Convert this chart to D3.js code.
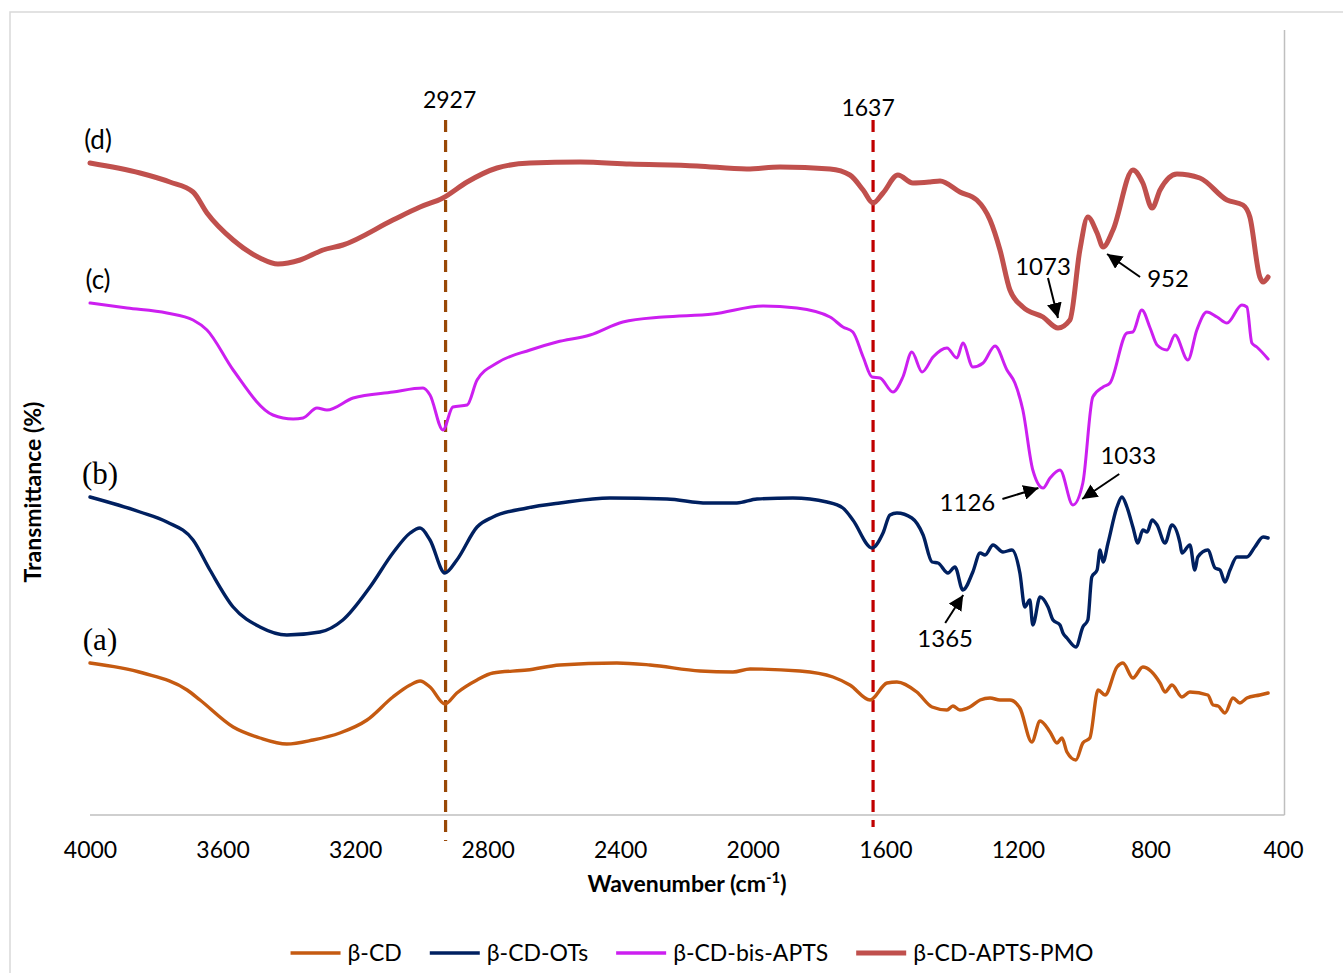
<!DOCTYPE html>
<html>
<head>
<meta charset="utf-8">
<script src="https://cdn.jsdelivr.net/npm/d3@7"></script>
<style>
  body { margin: 0; background: #fff; }
  text { font-family: Lato, "Open Sans", sans-serif; fill: #000; }
</style>
</head>
<body>
<div id="chart"></div>
<script>
// FTIR spectra (transmittance is stacked / arbitrary offset)
var waveA = [4000,3840,3707,3668,3568,3487,3406,3327,3246,3164,3086,3034,3004,2974,2929,2893,2832,2784,2681,2582,2410,2310,2159,2060,2008,1858,1758,1707,1646,1595,1565,1505,1459,1414,1396,1375,1345,1314,1284,1254,1224,1194,1158,1133,1103,1082,1067,1052,1025,1004,983,958,937,901,883,853,823,771,756,735,705,681,627,611,596,575,551,530,509,470,445];
var transA = [30.4,28.4,25,23,17.6,15.4,14.2,15,16.4,19,23.6,26,26.8,25.6,22.2,24.4,27,28.4,29,30,30.4,30,28.8,28.6,29.2,28.8,27.6,26,23,26.4,26.6,24.6,21.6,21,21.8,21,21.6,23,23.4,23,23,21.4,14.6,18.8,16.6,14.4,15.4,12.6,11,14.4,15.4,25,24,29.6,30.4,27.4,29.6,26.4,24.6,26,23.6,24.6,24,22,21.8,20.4,23.4,22.4,23.4,24,24.4];

var waveB = [4000,3849,3768,3689,3638,3568,3487,3406,3306,3237,3155,3086,3034,3004,2974,2929,2893,2832,2784,2681,2582,2431,2259,2138,2048,1987,1879,1776,1728,1698,1640,1607,1586,1565,1520,1486,1459,1441,1411,1390,1366,1336,1314,1299,1275,1245,1218,1194,1179,1164,1155,1133,1109,1094,1073,1064,1052,1025,1004,989,977,961,952,943,928,901,886,871,853,838,823,810,795,780,756,735,711,705,681,666,657,627,605,590,575,560,539,509,485,460,445];
var transB = [63.6,60.6,58.6,55,49,41.6,37.6,36,36.6,39,45.6,52.4,56.4,57.4,55,48.4,51,57.6,59.6,61.4,62.4,63.4,63.2,62.4,62.4,63.2,63.4,62.6,61.4,59,53.4,56.4,60,60.4,59.4,56,50.6,50.4,48.4,49.6,45,48.6,52.4,52,54,52.6,53,48.4,41.6,43,38,43.6,41.6,39,38,36.4,35.4,33.6,37.6,39,47.6,49,53,50.6,54.4,61.6,63.6,61.6,57.6,54.4,57,56.6,59,58,54.4,58,54.4,52.4,54,49,51.6,53,49.4,49,46.6,49,51.6,51.6,53.6,55.6,55.4];

var waveC = [4000,3888,3768,3689,3647,3568,3448,3387,3357,3315,3285,3206,3086,2995,2974,2935,2905,2862,2832,2772,2672,2591,2491,2392,2271,2120,1969,1867,1767,1728,1698,1667,1640,1616,1577,1547,1520,1489,1456,1414,1384,1366,1336,1305,1269,1233,1209,1185,1155,1124,1103,1073,1034,1004,974,943,922,871,853,826,801,780,750,726,687,660,630,599,569,524,509,494,479,445];
var transC = [102.4,101.4,100.4,99,97,89,80,79.2,79.4,81.4,81,83.4,84.6,85.4,84,77,81.6,82,87,90.4,93,94.6,96,98.6,99.6,100.2,101.8,101.4,99.6,97.6,96.6,91.6,87.6,87.4,84.6,87.6,92.6,88.6,91.6,93.4,91.4,94.4,89.6,90.4,93.8,89,86.4,81,69,65.4,67.4,69,62,66.4,83.6,85.6,86.4,96.4,96.6,101,97.4,94,93,96,91,97,100.6,99.6,98.4,102,101.6,94.4,93.6,91.2];

var waveD = [4000,3849,3759,3689,3647,3568,3487,3433,3366,3297,3237,3086,3004,2935,2862,2772,2672,2521,2371,2168,2018,1918,1767,1707,1667,1637,1607,1562,1517,1465,1435,1375,1324,1284,1254,1224,1185,1124,1079,1043,1013,989,961,943,913,853,823,795,771,720,651,569,521,500,470,460,445];
var transD = [130.4,128.4,126.6,124.6,120.4,115,111.4,110.2,111,113,114,119,121.6,123.4,126.6,129.4,130.4,130.6,130.2,129.8,129.2,129.6,129.2,128,125,122.4,124.4,128,126.4,126.6,126.8,124.6,123,119,113,105,101.6,99.6,97.4,99,113,119.6,116.4,113.6,117,129,126.4,121.4,125,128.2,127.4,123,122,119.6,107.6,106.6,107.6];

var seriesNames = ["β-CD", "β-CD-OTs", "β-CD-bis-APTS", "β-CD-APTS-PMO"];
var seriesTags = ["(a)", "(b)", "(c)", "(d)"];
var tickValues = [4000, 3600, 3200, 2800, 2400, 2000, 1600, 1200, 800, 400];

// marker lines and peak labels
var markWaves = [2927, 1637];
var noteLabels = ["1073", "952", "1126", "1033", "1365"];
var noteWaves = [1073, 952, 1126, 1033, 1365];
var noteTrans = [99.4, 112.2, 65.4, 63.2, 44];

// Set up the chart
var svgWidth = 1343;
var svgHeight = 973;

var margin = {
  top: 15,
  right: 60,
  bottom: 158,
  left: 90
};

var width = 1283 - margin.left;
var height = svgHeight - margin.top - margin.bottom;

var colors = ["#C55A11", "#002060", "#CC1FF0", "#C0504D"];
var strokes = [3.4, 3.4, 3, 5];
var markColors = ["#984807", "#C00000"];

var svg = d3.select("#chart")
  .append("svg")
  .attr("width", svgWidth)
  .attr("height", svgHeight);

// chart area border (runs off the right/bottom edge)
svg.append("rect")
  .attr("x", 10)
  .attr("y", 12)
  .attr("width", 1400)
  .attr("height", 1000)
  .attr("fill", "none")
  .attr("stroke", "#D9D9D9")
  .attr("stroke-width", 1.5);

var chartGroup = svg.append("g")
  .attr("transform", `translate(${margin.left}, ${margin.top})`);

var xScale = d3.scaleLinear()
  .domain([4000, 400])
  .range([0, width]);

var yScale = d3.scaleLinear()
  .domain([0, 160])
  .range([height, 0]);

// plot area right edge
chartGroup.append("line")
  .attr("x1", width + 1.5)
  .attr("x2", width + 1.5)
  .attr("y1", 15)
  .attr("y2", height)
  .attr("stroke", "#BFBFBF")
  .attr("stroke-width", 1.5);

// x axis
var bottomAxis = d3.axisBottom(xScale)
  .tickValues(tickValues)
  .tickSize(0)
  .tickPadding(27)
  .tickFormat(d3.format("d"));

var xAxis = chartGroup.append("g")
  .attr("transform", `translate(0, ${height})`)
  .call(bottomAxis);

xAxis.select(".domain")
  .attr("d", `M0,0H${width + 1.5}`)
  .attr("stroke", "#BFBFBF")
  .attr("stroke-width", 1.5);

xAxis.selectAll("text")
  .style("font-family", "Lato, 'Open Sans', sans-serif")
  .style("font-size", "23px")
  .attr("fill", "#000");

// dashed marker lines
markWaves.forEach(function(w, i) {
  chartGroup.append("line")
    .attr("x1", xScale(w))
    .attr("x2", xScale(w))
    .attr("y1", 105)
    .attr("y2", i === 0 ? height + 26 : height + 12)
    .attr("stroke", markColors[i])
    .attr("stroke-width", 3.2)
    .attr("stroke-dasharray", "12,8");

  chartGroup.append("text")
    .attr("x", xScale(w) + (i === 0 ? 4 : -5))
    .attr("y", i === 0 ? 93 : 101)
    .attr("text-anchor", "middle")
    .style("font-size", "23px")
    .text(w);
});

// spectra
var line = d3.line()
  .x(d => xScale(d[0]))
  .y(d => yScale(d[1]))
  .curve(d3.curveMonotoneX);

var spectra = [
  d3.zip(waveA, transA),
  d3.zip(waveB, transB),
  d3.zip(waveC, transC),
  d3.zip(waveD, transD)
];

spectra.forEach(function(data, i) {
  chartGroup.append("path")
    .datum(data)
    .attr("fill", "none")
    .attr("stroke", colors[i])
    .attr("stroke-width", strokes[i])
    .attr("stroke-linejoin", "round")
    .attr("stroke-linecap", "round")
    .attr("d", line);

  // (a) (b) tags in serif, (c) (d) in sans
  var serif = i < 2;
  chartGroup.append("text")
    .attr("x", xScale(data[0][0]) + (serif ? 10 : 8))
    .attr("y", yScale(data[0][1]) - (serif ? 13 : 14))
    .attr("text-anchor", "middle")
    .style("font-family", serif ? "'Liberation Serif', 'DejaVu Serif', serif" : null)
    .style("font-size", serif ? "31px" : "26px")
    .text(seriesTags[i]);
});

// arrow head
svg.append("defs").append("marker")
  .attr("id", "arrow")
  .attr("viewBox", "0 0 10 10")
  .attr("refX", 10)
  .attr("refY", 5)
  .attr("markerWidth", 7.5)
  .attr("markerHeight", 7.5)
  .attr("markerUnits", "strokeWidth")
  .attr("orient", "auto")
  .append("path")
  .attr("d", "M0,0L10,5L0,10Z")
  .attr("fill", "#000");

// offsets: tip shift, arrow tail, text baseline (px from peak)
var noteLayout = [
  {tip: [-2, 0], tail: [-10, -40], text: [-15, -43]},
  {tip: [7, 0], tail: [33, 23], text: [61, 33]},
  {tip: [-4, 0], tail: [-36, 11], text: [-71, 23]},
  {tip: [9, 0], tail: [37, -25], text: [46, -35]},
  {tip: [0, 0], tail: [-18, 28], text: [-18, 52]}
];

noteLabels.forEach(function(label, i) {
  var px = xScale(noteWaves[i]) + noteLayout[i].tip[0];
  var py = yScale(noteTrans[i]) + noteLayout[i].tip[1];

  chartGroup.append("line")
    .attr("x1", px + noteLayout[i].tail[0])
    .attr("y1", py + noteLayout[i].tail[1])
    .attr("x2", px)
    .attr("y2", py)
    .attr("stroke", "#000")
    .attr("stroke-width", 2)
    .attr("marker-end", "url(#arrow)");

  chartGroup.append("text")
    .attr("x", px + noteLayout[i].text[0])
    .attr("y", py + noteLayout[i].text[1])
    .attr("text-anchor", "middle")
    .style("font-size", "24px")
    .text(label);
});

// axis titles
var xTitle = svg.append("text")
  .attr("x", 687)
  .attr("y", 892)
  .attr("text-anchor", "middle")
  .style("font-size", "23px")
  .style("font-weight", "bold")
  .text("Wavenumber (cm");
xTitle.append("tspan")
  .attr("dy", -9)
  .style("font-size", "15px")
  .text("-1");
xTitle.append("tspan")
  .attr("dy", 9)
  .text(")");

svg.append("text")
  .attr("transform", "translate(41, 492) rotate(-90)")
  .attr("text-anchor", "middle")
  .style("font-size", "23px")
  .style("font-weight", "bold")
  .text("Transmittance (%)");

// legend
var legend = svg.append("g");
var lx = 0;
seriesNames.forEach(function(name, i) {
  var item = legend.append("g").attr("transform", `translate(${lx}, 0)`);
  item.append("line")
    .attr("x1", 0)
    .attr("x2", 50)
    .attr("y1", 0)
    .attr("y2", 0)
    .attr("stroke", colors[i])
    .attr("stroke-width", i === 3 ? 5 : 3.4);
  var t = item.append("text")
    .attr("x", 57)
    .attr("y", 8)
    .style("font-size", "23px")
    .text(name);
  lx += 57 + t.node().getComputedTextLength() + 28;
});
legend.attr("transform", `translate(${692 - (lx - 28) / 2}, 953)`);
</script>
</body>
</html>
